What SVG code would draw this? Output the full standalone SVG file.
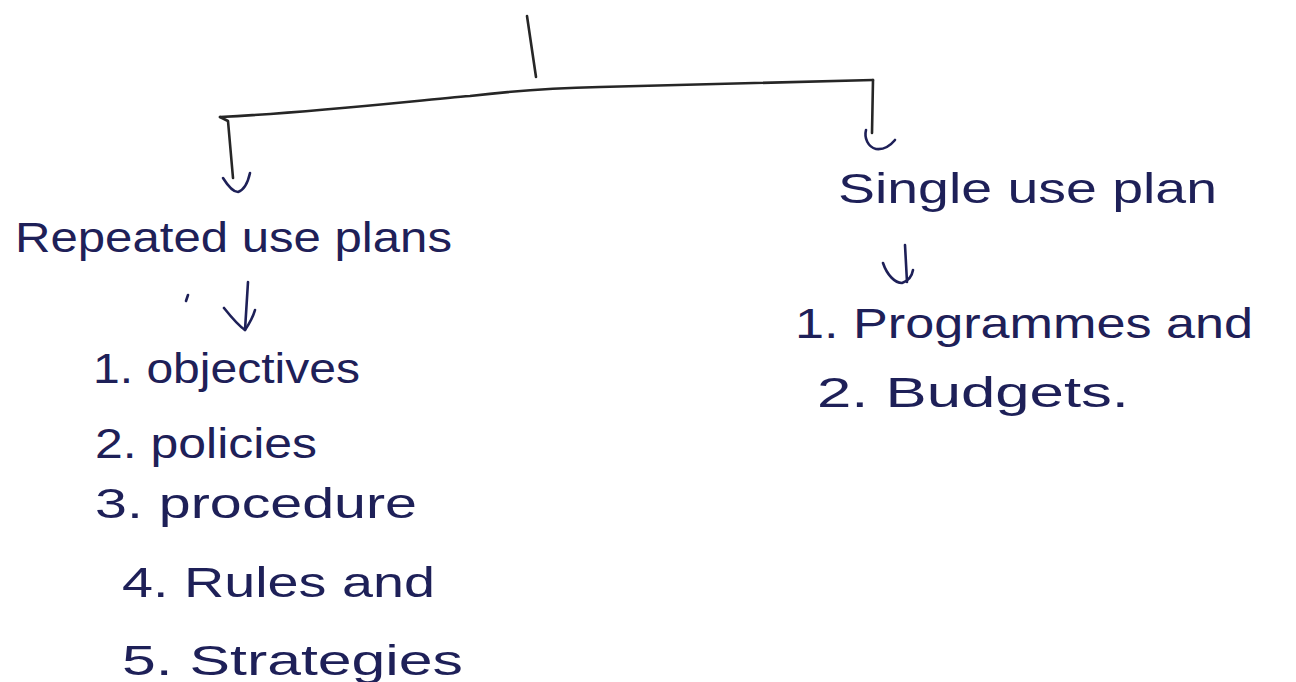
<svg xmlns="http://www.w3.org/2000/svg" width="1296" height="682" viewBox="0 0 1296 682">
  <style>
    .ink { font-family: "Liberation Sans", "DejaVu Sans", sans-serif; font-size: 42px; fill: #1e2058; }
    .line { fill: none; stroke: #262626; stroke-width: 2.6; stroke-linecap: round; stroke-linejoin: round; }
    .pen { fill: none; stroke: #1e2058; stroke-width: 2.6; stroke-linecap: round; stroke-linejoin: round; }
  </style>
  <rect width="1296" height="682" fill="#ffffff"/>

  <g id="connectors">
    <!-- top stem -->
    <path class="line" d="M527,16 L536,77"/>
    <!-- horizontal branch -->
    <path class="line" d="M220,117 C320,112 420,100 470,96 C520,90 560,88 600,87 C700,84 800,82 873,80"/>
    <!-- left drop with arrowhead -->
    <path class="line" d="M220,117 L228,121 L233,178"/>
    <path class="pen" d="M223,178 C228,186 233,192 238,192 C244,190 248,182 250,173"/>
    <!-- right drop with hook -->
    <path class="line" d="M873,80 L872,133"/>
    <path class="pen" d="M866,130 C864,138 868,147 876,149 C884,150 890,146 895,140"/>
    <!-- arrow under Repeated use plans -->
    <path class="pen" d="M188,295 L186,301"/>
    <path class="pen" d="M248,282 L245,330"/>
    <path class="pen" d="M224,308 C232,318 239,326 245,330 C249,324 253,317 255,310"/>
    <!-- arrow under Single use plan -->
    <path class="pen" d="M905,245 L907,282"/>
    <path class="pen" d="M883,263 C887,275 895,283 902,283 C908,281 912,276 913,270"/>
  </g>

  <g id="node-repeated">
    <text class="ink" x="15" y="252" textLength="437" lengthAdjust="spacingAndGlyphs">Repeated use plans</text>
    <text class="ink" x="93" y="383" textLength="267" lengthAdjust="spacingAndGlyphs">1. objectives</text>
    <text class="ink" x="95" y="458" textLength="222" lengthAdjust="spacingAndGlyphs">2. policies</text>
    <text class="ink" x="95" y="518" textLength="322" lengthAdjust="spacingAndGlyphs">3. procedure</text>
    <text class="ink" x="122" y="597" textLength="313" lengthAdjust="spacingAndGlyphs">4. Rules and</text>
    <text class="ink" x="122" y="675" textLength="341" lengthAdjust="spacingAndGlyphs">5. Strategies</text>
  </g>

  <g id="node-single">
    <text class="ink" x="838" y="203" textLength="379" lengthAdjust="spacingAndGlyphs">Single use plan</text>
    <text class="ink" x="795" y="338" textLength="458" lengthAdjust="spacingAndGlyphs">1. Programmes and</text>
    <text class="ink" x="817" y="407" textLength="312" lengthAdjust="spacingAndGlyphs">2. Budgets.</text>
  </g>
</svg>
